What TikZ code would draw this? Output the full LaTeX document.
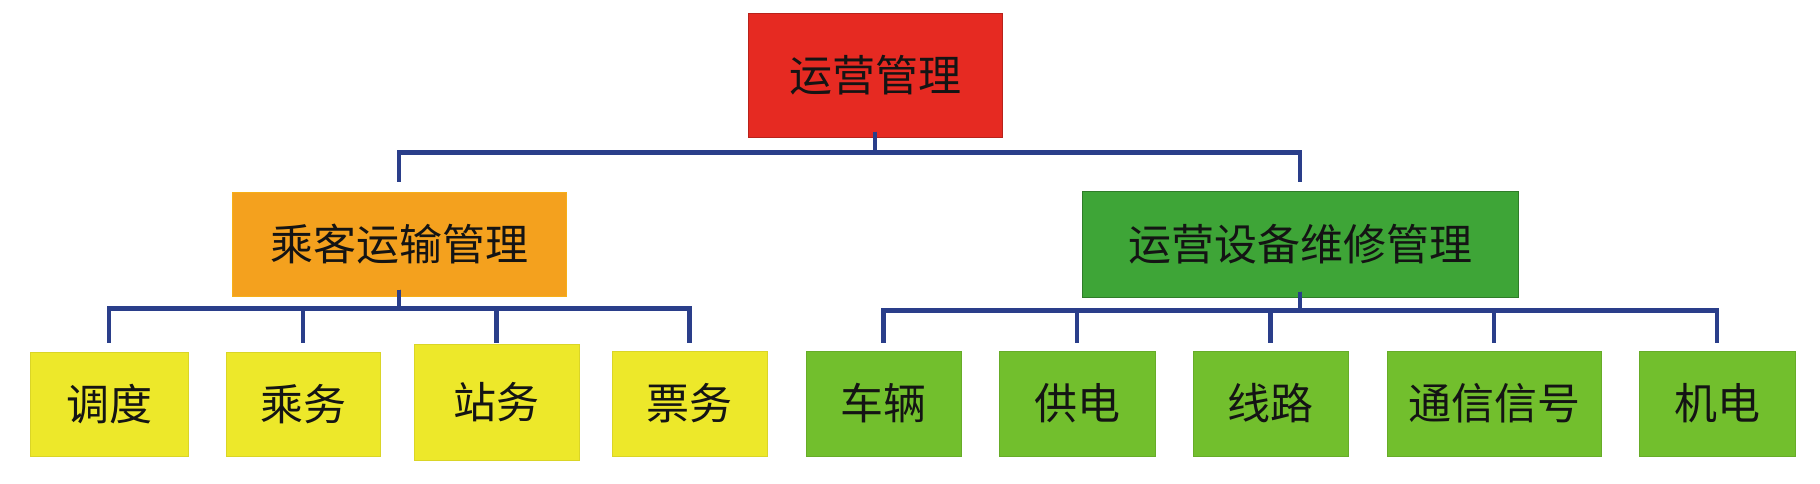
\documentclass[tikz,border=0pt]{standalone}
\usepackage{fontspec}
\newfontfamily\cjk{Noto Sans CJK SC}
\definecolor{cred}{HTML}{E62A22}
\definecolor{corange}{HTML}{F4A11E}
\definecolor{cmidgreen}{HTML}{3EA537}
\definecolor{clightgreen}{HTML}{72BF2D}
\definecolor{cyellow}{HTML}{EDE82A}
\definecolor{cnavy}{HTML}{2A3E8A}
\definecolor{ctext}{HTML}{141414}
\tikzset{
  box/.style={rectangle, inner sep=0pt, align=center, text=ctext,
    font=\cjk\fontsize{43}{50}\selectfont, line width=1pt},
  topbox/.style={box, fill=cred, draw=cred!80!black},
  orangebox/.style={box, fill=corange, draw=corange!85!yellow},
  midbox/.style={box, fill=cmidgreen, draw=cmidgreen!75!black},
  leafy/.style={box, fill=cyellow, draw=cyellow!92!black},
  leafg/.style={box, fill=clightgreen, draw=clightgreen!90!black},
  conn/.style={draw=cnavy, line width=4.5pt, line join=miter, line cap=butt},
}
\begin{document}
\begin{tikzpicture}[x=1pt,y=-1pt]
\useasboundingbox[fill=white] (0,0) rectangle (1820,483);
% boxes
\node[topbox, minimum width=254pt, minimum height=124pt] (top) at (875,75) {运营管理};
\node[orangebox, minimum width=334pt, minimum height=104pt] (pass) at (399,244) {乘客运输管理};
\node[midbox, minimum width=436pt, minimum height=106pt] (equip) at (1300,244) {运营设备维修管理};
\node[leafy, minimum width=158pt, minimum height=104pt] (dd) at (109,404) {调度};
\node[leafy, minimum width=154pt, minimum height=104pt] (cw) at (303,404) {乘务};
\node[leafy, minimum width=165pt, minimum height=116pt] (zw) at (496.5,402) {站务};
\node[leafy, minimum width=155pt, minimum height=105pt] (pw) at (689.5,403.5) {票务};
\node[leafg, minimum width=155pt, minimum height=105pt] (cl) at (883.5,403.5) {车辆};
\node[leafg, minimum width=156pt, minimum height=105pt] (gd) at (1077,403.5) {供电};
\node[leafg, minimum width=155pt, minimum height=105pt] (xl) at (1270.5,403.5) {线路};
\node[leafg, minimum width=214pt, minimum height=105pt] (tx) at (1494,403.5) {通信信号};
\node[leafg, minimum width=156pt, minimum height=105pt] (jd) at (1717,403.5) {机电};
% connector end levels
\coordinate (midend) at (0,182);
\coordinate (lowend) at (0,343);
% top level
\foreach \c in {pass,equip}{
  \draw[conn] ([yshift=6pt]top.south) -- ++(0,21) -| (\c.north |- midend);
}
% left subtree
\foreach \c in {dd,cw,zw,pw}{
  \draw[conn] ([yshift=7pt]pass.south) -- ++(0,19) -| (\c.north |- lowend);
}
% right subtree
\foreach \c in {cl,gd,xl,tx,jd}{
  \draw[conn] ([yshift=6pt]equip.south) -- ++(0,19) -| (\c.north |- lowend);
}
\end{tikzpicture}
\end{document}
